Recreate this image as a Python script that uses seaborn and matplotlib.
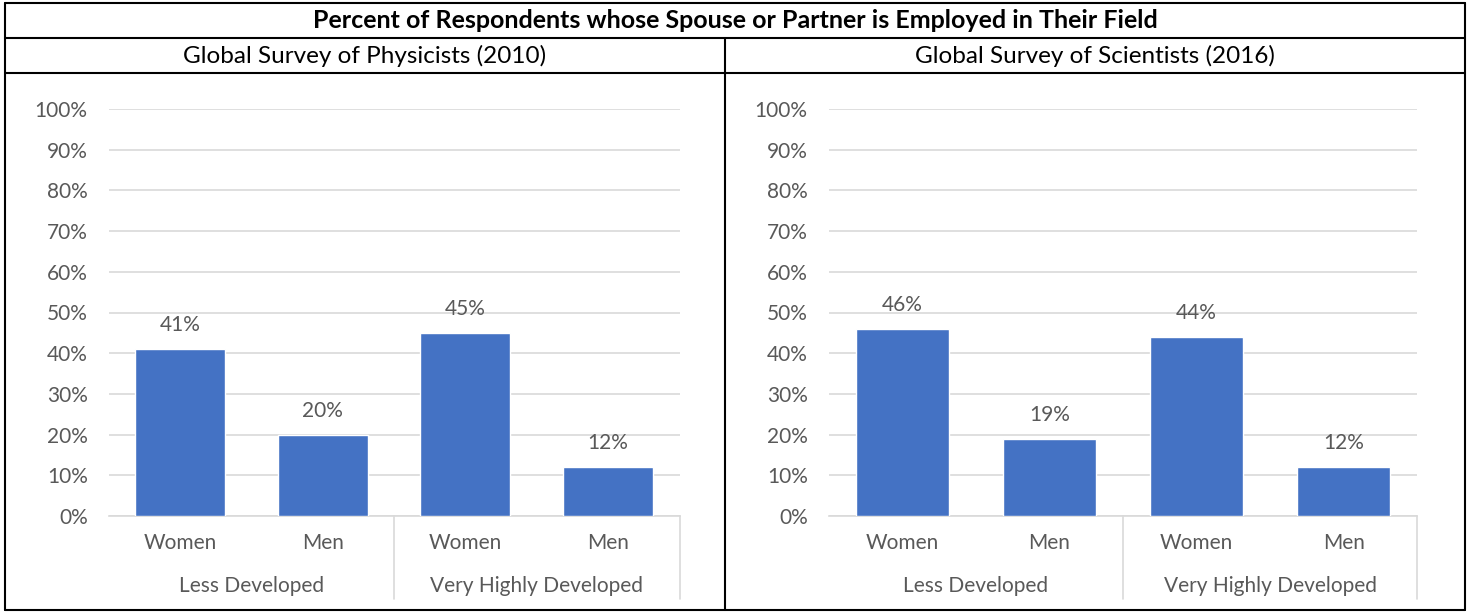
import numpy as np
import pandas as pd
import matplotlib
matplotlib.use("Agg")
import matplotlib.pyplot as plt
import seaborn as sns
from matplotlib.lines import Line2D

# data
genders = ["Women", "Men", "Women", "Men"]
groups = ["Less Developed", "Very Highly Developed"]
physicists_2010 = [41, 20, 45, 12]
scientists_2016 = [46, 19, 44, 12]
panel_titles = ["Global Survey of Physicists (2010)", "Global Survey of Scientists (2016)"]
main_title = "Percent of Respondents whose Spouse or Partner is Employed in Their Field"

sns.set_style("white")
plt.rcParams["font.family"] = ["Lato", "DejaVu Sans"]

W, H = 1471, 613
fig = plt.figure(figsize=(W / 100, H / 100), dpi=100)

bar_color = "#4472C4"
grid_color = "#D9D9D9"
text_gray = "#595959"
fs = 15


def fx(px):
    return px / W


def fy(py):
    return 1 - py / H


# axes positions in pixel terms (left, right)
panels = [
    (108.5, 679.5, physicists_2010),
    (828.5, 1417.5, scientists_2016),
]

for left, right, vals in panels:
    ax = fig.add_axes([fx(left), fy(516), fx(right - left), fy(109) - fy(516)])
    df = pd.DataFrame({"pos": range(len(vals)), "value": vals})
    sns.barplot(data=df, x="pos", y="value", color=bar_color, saturation=1,
                width=0.63, ax=ax, zorder=3)
    ax.set_ylim(0, 100)
    ax.set_xlim(-0.5, 3.5)
    ax.set_yticks(np.arange(0, 101, 10))
    ax.set_yticklabels([f"{v}%" for v in range(0, 101, 10)])
    ax.set_xticks(range(4))
    ax.set_xticklabels(genders)
    ax.tick_params(axis="both", length=0, labelsize=fs, colors=text_gray)
    ax.tick_params(axis="x", pad=12)
    ax.tick_params(axis="y", pad=15)
    ax.set_xlabel("")
    ax.set_ylabel("")
    ax.yaxis.grid(True, color=grid_color, lw=1.2, zorder=0)
    for s in ["top", "right", "left"]:
        ax.spines[s].set_visible(False)
    ax.spines["bottom"].set_color(grid_color)
    ax.spines["bottom"].set_linewidth(1.2)
    for cont in ax.containers:
        ax.bar_label(cont, labels=[f"{v}%" for v in vals], padding=10,
                     fontsize=fs, color=text_gray)
    # two-level category labels
    trans = ax.get_xaxis_transform()
    for i, g in enumerate(groups):
        ax.text(2 * i + 0.5, -0.172, g, transform=trans, ha="center", va="center",
                fontsize=fs, color=text_gray)
    for xs in [1.5, 3.5]:
        ax.add_line(Line2D([xs, xs], [0, -0.205], transform=trans, color=grid_color,
                           lw=1.2, clip_on=False))


# table-like frame
def hline(y, x0=5, x1=1465, lw=1.5):
    fig.add_artist(Line2D([fx(x0), fx(x1)], [fy(y), fy(y)], color="black", lw=lw))


def vline(x, y0, y1, lw=1.5):
    fig.add_artist(Line2D([fx(x), fx(x)], [fy(y0), fy(y1)], color="black", lw=lw))


hline(3)
hline(38)
hline(73)
hline(610)
vline(5, 3, 610)
vline(1465, 3, 610)
vline(725, 38, 610)

fig.text(fx(735), fy(20), main_title, ha="center", va="center", fontsize=18,
         fontweight="bold", color="black")
fig.text(fx(365), fy(56), panel_titles[0], ha="center", va="center", fontsize=17.5,
         color="black")
fig.text(fx(1095), fy(56), panel_titles[1], ha="center", va="center", fontsize=17.5,
         color="black")

fig.savefig("out.png", dpi=100)
